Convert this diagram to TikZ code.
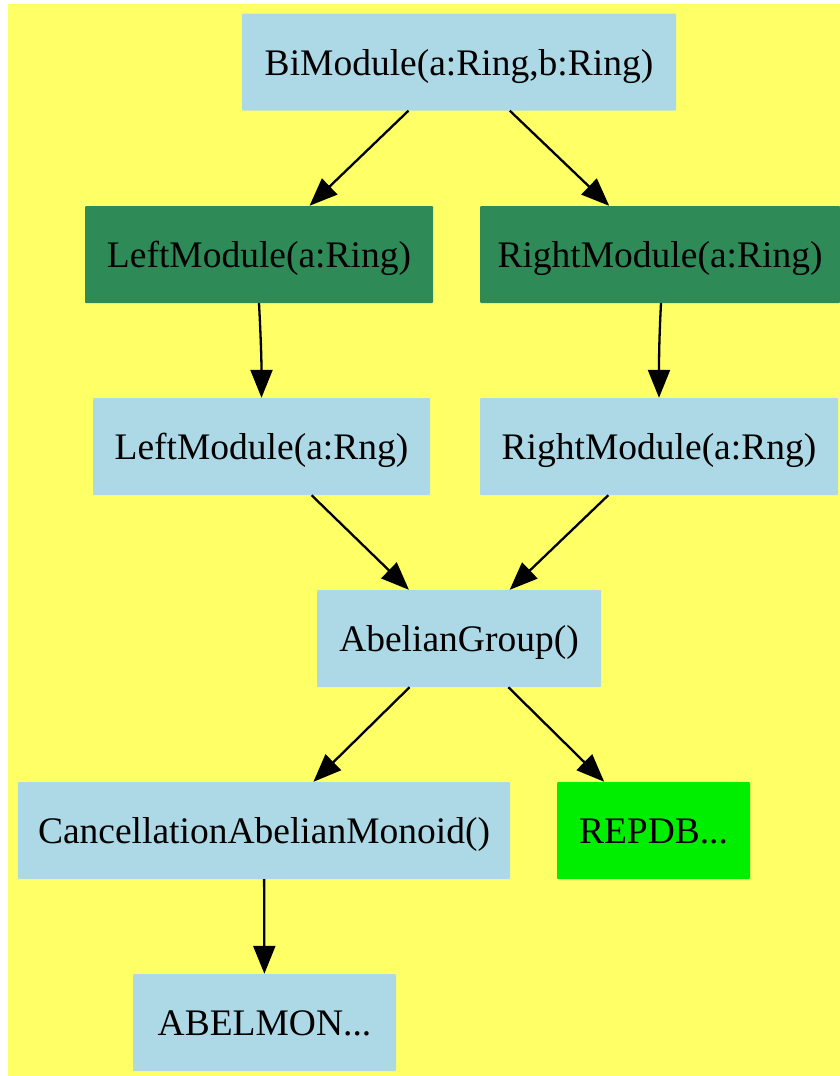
\documentclass[tikz,border=0pt]{standalone}
\usepackage{fontspec}
\setmainfont{Liberation Serif}
\usetikzlibrary{arrows.meta}
\definecolor{bgyellow}{HTML}{FFFF66}
\definecolor{lblue}{HTML}{ADD8E6}
\definecolor{sgreen}{HTML}{2E8B57}
\definecolor{bgreen}{HTML}{00EE00}
\begin{document}
\begin{tikzpicture}[x=1pt,y=-1pt,
  box/.style={rectangle,rounded corners=1pt,inner sep=0pt,minimum height=97pt,
    text height=26pt,text depth=0pt,
    font=\fontsize{37.5}{40}\selectfont,text=black},
  bluebox/.style={box,fill=lblue},
  darkbox/.style={box,fill=sgreen},
  greenbox/.style={box,fill=bgreen},
  edge/.style={line width=2.3pt,-{Triangle[length=28pt,width=22pt]}}]
\useasboundingbox (0,0) rectangle (840,1076);
\fill[bgyellow] (8,4) rectangle (840,1076);
\node[bluebox,minimum width=434pt] (bi) at (459,62) {BiModule(a:Ring,b:Ring)};
\node[darkbox,minimum width=348pt] (lr) at (259,254.5) {LeftModule(a:Ring)};
\node[darkbox,minimum width=360pt] (rr) at (660,254.5) {RightModule(a:Ring)};
\node[bluebox,minimum width=337pt] (ln) at (261.5,446.5) {LeftModule(a:Rng)};
\node[bluebox,minimum width=358pt] (rn) at (659,446.5) {RightModule(a:Rng)};
\node[bluebox,minimum width=284pt] (ag) at (459,638.5) {AbelianGroup()};
\node[bluebox,minimum width=492pt] (cam) at (264,830.5) {CancellationAbelianMonoid()};
\node[greenbox,minimum width=193pt] (rep) at (653.5,830.5) {REPDB...};
\node[bluebox,minimum width=263pt] (abm) at (264.5,1022.5) {ABELMON...};
\draw[edge] (bi) -- (lr);
\draw[edge] (bi) -- (rr);
\draw[edge] (lr.south) to[out=-87,in=90] (ln.north);
\draw[edge] ([xshift=1pt]rr.south) to[out=-93,in=90] (rn.north);
\draw[edge] (ln) -- (ag);
\draw[edge] (rn) -- (ag);
\draw[edge] (ag) -- (cam);
\draw[edge] (ag) -- (rep);
\draw[edge] (cam) -- (abm);
\end{tikzpicture}
\end{document}
